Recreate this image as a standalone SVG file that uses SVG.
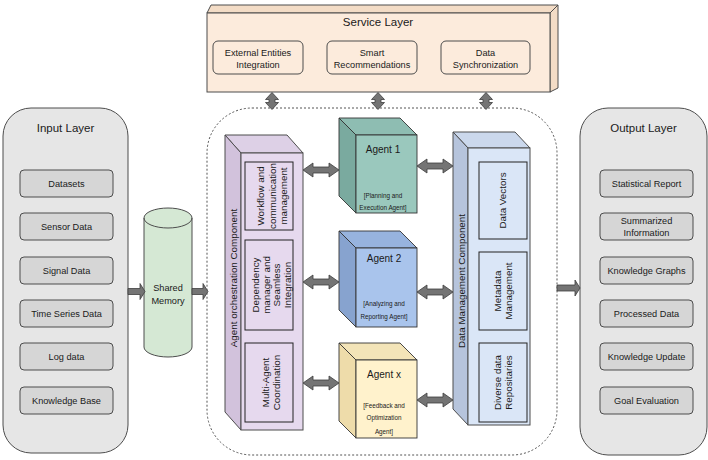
<svg xmlns="http://www.w3.org/2000/svg" width="708" height="460" viewBox="0 0 708 460">
<style>
text{font-family:"Liberation Sans",Arial,sans-serif;fill:#1a1a1a;text-anchor:middle}
.ttl{font-size:11.5px}
.it{font-size:9.2px}
.vt{font-size:9.8px;dominant-baseline:central}
.at{font-size:10px}
.as{font-size:6.3px}
.layer{fill:#e6e6e6;stroke:#4d4d4d;stroke-width:1}
.item{fill:#d6d6d6;stroke:#4d4d4d;stroke-width:1}
.svc{fill:#fcebdc;stroke:#4d4d4d;stroke-width:1}
.svcd{fill:#f3dcc6;stroke:#4d4d4d;stroke-width:1}
.inner{stroke:#222;stroke-width:1}
.arr{fill:#747474;stroke:#3d3d3d;stroke-width:0.8}
</style>

<rect id="container" x="207" y="108" width="350" height="347" rx="45" ry="45" fill="none" stroke="#555" stroke-width="1" stroke-dasharray="2,2"/>

<g id="service-layer">
  <polygon class="svcd" points="207,13 211,5 558,5 550,13"/>
  <polygon class="svcd" points="550,13 558,5 558,88 550,92"/>
  <rect class="svc" x="207" y="13" width="343" height="79"/>
  <text class="ttl" x="378" y="26">Service Layer</text>
  <g id="svc-external">
    <rect class="svc" x="213" y="41" width="90" height="33" rx="5"/>
    <text class="it" x="258" y="55.5">External Entities</text>
    <text class="it" x="258" y="67.5">Integration</text>
  </g>
  <g id="svc-smart">
    <rect class="svc" x="327" y="41" width="90" height="33" rx="5"/>
    <text class="it" x="372" y="55.5">Smart</text>
    <text class="it" x="372" y="67.5">Recommendations</text>
  </g>
  <g id="svc-sync">
    <rect class="svc" x="441" y="41" width="89" height="33" rx="5"/>
    <text class="it" x="485.5" y="55.5">Data</text>
    <text class="it" x="485.5" y="67.5">Synchronization</text>
  </g>
</g>

<g id="input-layer">
  <rect class="layer" x="3" y="108" width="125" height="345" rx="28"/>
  <text class="ttl" x="65.5" y="132">Input Layer</text>
  <g id="in-datasets"><rect class="item" x="20" y="170" width="93" height="27" rx="4"/><text class="it" x="66.5" y="186.8">Datasets</text></g>
  <g id="in-sensor"><rect class="item" x="20" y="213" width="93" height="27" rx="4"/><text class="it" x="66.5" y="229.8">Sensor Data</text></g>
  <g id="in-signal"><rect class="item" x="20" y="257" width="93" height="27" rx="4"/><text class="it" x="66.5" y="273.8">Signal Data</text></g>
  <g id="in-timeseries"><rect class="item" x="20" y="300" width="93" height="27" rx="4"/><text class="it" x="66.5" y="316.8">Time Series Data</text></g>
  <g id="in-log"><rect class="item" x="20" y="343" width="93" height="27" rx="4"/><text class="it" x="66.5" y="359.8">Log data</text></g>
  <g id="in-kb"><rect class="item" x="20" y="387" width="93" height="27" rx="4"/><text class="it" x="66.5" y="403.8">Knowledge Base</text></g>
</g>

<g id="shared-memory">
  <path d="M144,218 A24,10 0 0 1 192,218 V347 A24,10 0 0 1 144,347 Z" fill="#d5e8d4" stroke="#4d4d4d" stroke-width="1"/>
  <path d="M144,218 A24,10 0 0 0 192,218" fill="none" stroke="#4d4d4d" stroke-width="1"/>
  <text class="it" x="168" y="291">Shared</text>
  <text class="it" x="168" y="304">Memory</text>
</g>

<g id="agent-orchestration">
  <polygon points="225,135 287,135 303,153 241,153" fill="#ddd0e6" stroke="#4d4d4d" stroke-width="1"/>
  <polygon points="225,135 241,153 241,430 225,412" fill="#d2c2dc" stroke="#4d4d4d" stroke-width="1"/>
  <rect x="241" y="153" width="62" height="277" fill="#e6d9ee" stroke="#4d4d4d" stroke-width="1"/>
  <text class="vt" transform="translate(233,278) rotate(-90)">Agent orchestration Component</text>
  <g id="orch-workflow">
    <rect class="inner" x="245" y="162" width="48" height="68" fill="#e6d9ee"/>
    <text class="vt" transform="translate(260.5,196) rotate(-90)">Workflow and</text>
    <text class="vt" transform="translate(272,196) rotate(-90)">communication</text>
    <text class="vt" transform="translate(283.5,196) rotate(-90)">management</text>
  </g>
  <g id="orch-dependency">
    <rect class="inner" x="245" y="240" width="48" height="90" fill="#e6d9ee"/>
    <text class="vt" transform="translate(255.5,285) rotate(-90)">Dependency</text>
    <text class="vt" transform="translate(266.2,285) rotate(-90)">manager and</text>
    <text class="vt" transform="translate(276.9,285) rotate(-90)">Seamless</text>
    <text class="vt" transform="translate(287.6,285) rotate(-90)">Integration</text>
  </g>
  <g id="orch-multiagent">
    <rect class="inner" x="245" y="343" width="48" height="79" fill="#e6d9ee"/>
    <text class="vt" transform="translate(265,382.5) rotate(-90)">Multi-Agent</text>
    <text class="vt" transform="translate(276.5,382.5) rotate(-90)">Coordination</text>
  </g>
</g>

<g id="agent-1">
  <polygon points="339,118 400,118 417,135 356,135" fill="#8ebdb2" stroke="#333" stroke-width="0.9"/>
  <polygon points="339,118 356,135 356,213 339,196" fill="#7aaa9f" stroke="#333" stroke-width="0.9"/>
  <rect x="356" y="135" width="61" height="78" fill="#9ac8bd" stroke="#333" stroke-width="0.9"/>
  <text class="at" x="383" y="152.5">Agent 1</text>
  <text class="as" x="383" y="197.5">[Planning and</text>
  <text class="as" x="383" y="210">Execution Agent]</text>
</g>

<g id="agent-2">
  <polygon points="339,231 400,231 417,248 356,248" fill="#97b3de" stroke="#333" stroke-width="0.9"/>
  <polygon points="339,231 356,248 356,327 339,310" fill="#87a3cf" stroke="#333" stroke-width="0.9"/>
  <rect x="356" y="248" width="61" height="79" fill="#a9c4ec" stroke="#333" stroke-width="0.9"/>
  <text class="at" x="384" y="261.5">Agent 2</text>
  <text class="as" x="384" y="305.5">[Analyzing and</text>
  <text class="as" x="384" y="319">Reporting Agent]</text>
</g>

<g id="agent-x">
  <polygon points="339,343 400,343 417,360 356,360" fill="#f3e4b8" stroke="#333" stroke-width="0.9"/>
  <polygon points="339,343 356,360 356,438 339,421" fill="#eedcaa" stroke="#333" stroke-width="0.9"/>
  <rect x="356" y="360" width="61" height="78" fill="#fff2cc" stroke="#333" stroke-width="0.9"/>
  <text class="at" x="384" y="378">Agent x</text>
  <text class="as" x="384" y="407.5">[Feedback and</text>
  <text class="as" x="384" y="419.5">Optimization</text>
  <text class="as" x="384" y="434">Agent]</text>
</g>

<g id="data-management">
  <polygon points="453,132 515,132 530,148 468,148" fill="#cbd8ec" stroke="#4d4d4d" stroke-width="1"/>
  <polygon points="453,132 468,148 468,425 453,409" fill="#b6c4dc" stroke="#4d4d4d" stroke-width="1"/>
  <rect x="468" y="148" width="62" height="277" fill="#dae6f7" stroke="#4d4d4d" stroke-width="1"/>
  <text class="vt" transform="translate(461,281) rotate(-90)">Data Management Component</text>
  <g id="dm-vectors">
    <rect class="inner" x="479" y="162" width="48" height="77" fill="#dae6f7"/>
    <text class="vt" transform="translate(502.5,200.5) rotate(-90)">Data Vectors</text>
  </g>
  <g id="dm-metadata">
    <rect class="inner" x="479" y="252" width="48" height="78" fill="#dae6f7"/>
    <text class="vt" transform="translate(497.5,291) rotate(-90)">Metadata</text>
    <text class="vt" transform="translate(508.5,291) rotate(-90)">Management</text>
  </g>
  <g id="dm-repos">
    <rect class="inner" x="479" y="343" width="48" height="79" fill="#dae6f7"/>
    <text class="vt" transform="translate(497.5,382.5) rotate(-90)">Diverse data</text>
    <text class="vt" transform="translate(508.5,382.5) rotate(-90)">Repositaries</text>
  </g>
</g>

<g id="output-layer">
  <rect class="layer" x="580" y="108" width="127" height="347" rx="28"/>
  <text class="ttl" x="643.5" y="132">Output Layer</text>
  <g id="out-stat"><rect class="item" x="600" y="170" width="93" height="27" rx="4"/><text class="it" x="646.5" y="186.8">Statistical Report</text></g>
  <g id="out-summ"><rect class="item" x="600" y="213" width="93" height="27" rx="4"/><text class="it" x="646.5" y="223.5">Summarized</text><text class="it" x="646.5" y="236">Information</text></g>
  <g id="out-kg"><rect class="item" x="600" y="257" width="93" height="27" rx="4"/><text class="it" x="646.5" y="273.8">Knowledge Graphs</text></g>
  <g id="out-processed"><rect class="item" x="600" y="300" width="93" height="27" rx="4"/><text class="it" x="646.5" y="316.8">Processed Data</text></g>
  <g id="out-update"><rect class="item" x="600" y="343" width="93" height="27" rx="4"/><text class="it" x="646.5" y="359.8">Knowledge Update</text></g>
  <g id="out-goal"><rect class="item" x="600" y="387" width="93" height="27" rx="4"/><text class="it" x="646.5" y="403.8">Goal Evaluation</text></g>
</g>

<g id="connectors">
  <!-- service vertical double arrows -->
  <path class="arr" d="M272,92.5 L278.5,99.5 L275,99.5 L275,102.5 L278.5,102.5 L272,109.5 L265.5,102.5 L269,102.5 L269,99.5 L265.5,99.5 Z"/>
  <path class="arr" d="M378,92.5 L384.5,99.5 L381,99.5 L381,102.5 L384.5,102.5 L378,109.5 L371.5,102.5 L375,102.5 L375,99.5 L371.5,99.5 Z"/>
  <path class="arr" d="M486,92.5 L492.5,99.5 L489,99.5 L489,102.5 L492.5,102.5 L486,109.5 L479.5,102.5 L483,102.5 L483,99.5 L479.5,99.5 Z"/>
  <!-- orchestration to agents -->
  <path class="arr" d="M303,170 L313,163 L313,167 L329,167 L329,163 L339,170 L329,177 L329,173 L313,173 L313,177 Z"/>
  <path class="arr" d="M303,282 L313,275 L313,279 L329,279 L329,275 L339,282 L329,289 L329,285 L313,285 L313,289 Z"/>
  <path class="arr" d="M303,383 L313,376 L313,380 L329,380 L329,376 L339,383 L329,390 L329,386 L313,386 L313,390 Z"/>
  <!-- agents to data management -->
  <path class="arr" d="M417,166 L427,159 L427,163 L443,163 L443,159 L453,166 L443,173 L443,169 L427,169 L427,173 Z"/>
  <path class="arr" d="M417,292 L427,285 L427,289 L443,289 L443,285 L453,292 L443,299 L443,295 L427,295 L427,299 Z"/>
  <path class="arr" d="M417,400 L427,393 L427,397 L443,397 L443,393 L453,400 L443,407 L443,403 L427,403 L427,407 Z"/>
  <!-- flow arrows -->
  <path class="arr" d="M128,288.5 L140,288.5 L140,283.5 L145,291.5 L140,299.5 L140,294.5 L128,294.5 Z"/>
  <path class="arr" d="M192,288.5 L203,288.5 L203,283.5 L208,291.5 L203,299.5 L203,294.5 L192,294.5 Z"/>
  <path class="arr" d="M557,285 L575,285 L575,280 L580,288 L575,296 L575,291 L557,291 Z"/>
</g>
</svg>
